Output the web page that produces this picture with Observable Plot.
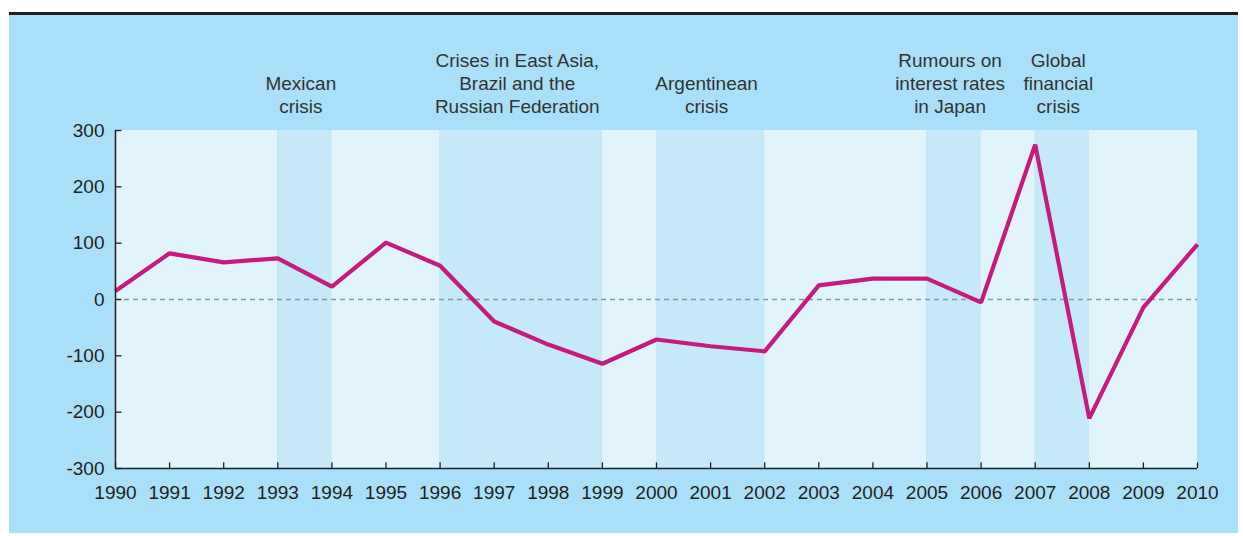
<!DOCTYPE html>
<html>
<head>
<meta charset="utf-8">
<script src="https://cdn.jsdelivr.net/npm/d3@7"></script>
<script src="https://cdn.jsdelivr.net/npm/@observablehq/plot@0.6"></script>
<style>
  html, body { margin: 0; padding: 0; background: #ffffff; }
  #wrap { position: relative; width: 1243px; height: 536px; overflow: hidden; }
  #panel { position: absolute; left: 9px; top: 12px; width: 1229px; height: 518px;
           background: #a9dff9; border-top: 3.5px solid #231f20; }
  #chart { position: absolute; left: 0; top: 0; }
  #chart svg { background: transparent; }
</style>
</head>
<body>
<div id="wrap">
  <div id="panel"></div>
  <div id="chart"></div>
</div>
<script>
const years = [1990,1991,1992,1993,1994,1995,1996,1997,1998,1999,2000,2001,2002,2003,2004,2005,2006,2007,2008,2009,2010];
const values = [15,82,66,73,23,101,60,-39,-80,-114,-71,-83,-92,25,37,37,-5,275,-211,-14,98];

const yTicks = [300,200,100,0,-100,-200,-300];
const yTickLabels = ["300","200","100","0","-100","-200","-300"];

const bandStarts = [1990,1993,1994,1996,1999,2000,2002,2005,2006,2007,2008];
const bandEnds   = [1993,1994,1996,1999,2000,2002,2005,2006,2007,2008,2010];
const bandDark   = [false,true,false,true,false,true,false,true,false,true,false];

const crisisLabels = ["Mexican\ncrisis","Crises in East Asia,\nBrazil and the\nRussian Federation","Argentinean\ncrisis","Rumours on\ninterest rates\nin Japan","Global\nfinancial\ncrisis"];
const crisisMid = [1993.5,1997.5,2001,2005.5,2007.5];

const bands = bandStarts.map((s,i)=>({x1:s, x2:bandEnds[i], dark:bandDark[i]}));
const series = years.map((y,i)=>({year:y, value:values[i]}));
const labels = crisisLabels.map((t,i)=>({x:crisisMid[i], text:t}));
const yt = yTicks.map((v,i)=>({v, label:yTickLabels[i]}));

const chart = Plot.plot({
  width: 1243,
  height: 536,
  marginLeft: 115,
  marginRight: 46,
  marginTop: 130,
  marginBottom: 68,
  style: {fontFamily: "Liberation Sans, Arial, sans-serif", background: "transparent", overflow: "visible"},
  x: {domain: [1990, 2010], axis: null},
  y: {domain: [-300, 300], axis: null},
  marks: [
    Plot.rectY(bands, {x1:"x1", x2:"x2", y1:-300, y2:300, fill: d => d.dark ? "#c6e9f9" : "#e1f4fc"}),
    Plot.ruleY([0], {stroke:"#7d98a6", strokeWidth:1.3, strokeDasharray:"5,4"}),
    Plot.line(series, {x:"year", y:"value", stroke:"#c71a7d", strokeWidth:4.2, strokeLinejoin:"miter", strokeLinecap:"butt"}),
    Plot.ruleX([1990], {y1:-300, y2:300, stroke:"#231f20", strokeWidth:1.5}),
    Plot.ruleY([-300], {x1:1990, x2:2010, stroke:"#231f20", strokeWidth:1.5}),
    Plot.ruleY(yt, {y:"v", x1:1990, x2:1990.12, stroke:"#231f20", strokeWidth:1.3}),
    Plot.ruleX(years, {x:d=>d, y1:-300, y2:-290, stroke:"#231f20", strokeWidth:1.3}),
    Plot.text(yt, {x:1990, y:"v", text:"label", textAnchor:"end", dx:-11, fontSize:19, fill:"#231f20"}),
    Plot.text(years, {x:d=>d, y:-300, text:d=>String(d), lineAnchor:"top", dy:17, fontSize:19, fill:"#231f20"}),
    Plot.text(labels, {x:"x", y:300, text:"text", lineAnchor:"bottom", dy:-18, dx:-4, fontSize:19, lineHeight:1.2, fill:"#333333"})
  ]
});
document.getElementById("chart").appendChild(chart);
</script>
</body>
</html>
